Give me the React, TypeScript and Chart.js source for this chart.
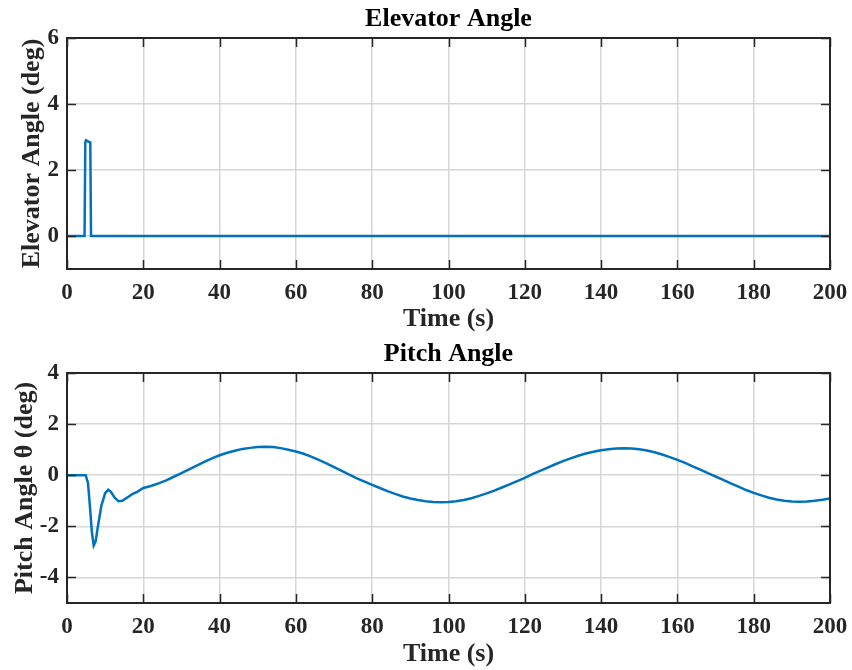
import React, { useEffect, useRef } from "react";
import { Chart, registerables } from "chart.js";

Chart.register(...registerables);

// ---- data ----
const xTicks = [0, 20, 40, 60, 80, 100, 120, 140, 160, 180, 200];
const elevatorTicks = [0, 2, 4, 6];
const pitchTicks = [-4, -2, 0, 2, 4];

const elevatorTime = [0, 4.6, 4.8, 5.0, 5.6, 6.1, 6.3, 200];
const elevatorAngle = [0, 0, 2.85, 2.9, 2.86, 2.84, 0, 0];

const pitchTime = [
  0, 4.9, 5.5, 6.0, 6.5, 7.0, 7.5, 8.0, 9.0, 10.0, 10.8, 11.5, 12.5, 13.5, 14.5, 16, 17, 18.5,
  20, 22, 24, 26, 28, 30, 32, 34, 36, 38, 40, 42, 44, 46, 48, 50, 52, 54, 56, 58, 60,
  62, 64, 66, 68, 70, 72, 74, 76, 78, 80, 82, 84, 86, 88, 90, 92, 94, 96, 98, 100,
  102, 104, 106, 108, 110, 112, 114, 116, 118, 120, 122, 124, 126, 128, 130, 132, 134, 136, 138, 140,
  142, 144, 146, 148, 150, 152, 154, 156, 158, 160, 162, 164, 166, 168, 170, 172, 174, 176, 178, 180,
  182, 184, 186, 188, 190, 192, 194, 196, 198, 200,
];
const pitchAngle = [
  0, 0, -0.3, -1.2, -2.2, -2.75, -2.6, -2.1, -1.2, -0.7, -0.57, -0.65, -0.88, -1.02, -1.0, -0.85, -0.75, -0.64,
  -0.5, -0.42, -0.32, -0.2, -0.06, 0.08, 0.23, 0.38, 0.52, 0.66, 0.78, 0.88, 0.96, 1.03, 1.07, 1.1, 1.11, 1.1, 1.06, 1.0, 0.93,
  0.84, 0.73, 0.6, 0.46, 0.32, 0.17, 0.02, -0.12, -0.25, -0.38, -0.5, -0.62, -0.73, -0.83, -0.91, -0.97, -1.02, -1.05, -1.06, -1.05,
  -1.02, -0.97, -0.9, -0.81, -0.71, -0.6, -0.48, -0.36, -0.23, -0.1, 0.04, 0.17, 0.3, 0.43, 0.55, 0.66, 0.76, 0.85, 0.92, 0.98,
  1.02, 1.05, 1.06, 1.05, 1.02, 0.97, 0.9, 0.81, 0.71, 0.6, 0.48, 0.35, 0.22, 0.08, -0.05, -0.18, -0.32, -0.45, -0.58, -0.69,
  -0.79, -0.88, -0.95, -1.0, -1.03, -1.04, -1.03, -1.0, -0.96, -0.91,
];

const FONT = "'Liberation Serif', 'Times New Roman', serif";
const LINE_COLOR = "#0072BD";
const AXIS_COLOR = "#262626";
const GRID_COLOR = "#d6d6d6";

const boxPlugin = {
  id: "matlabBox",
  afterDatasetsDraw(chart: any) {
    const { ctx, chartArea, scales } = chart;
    const { left, right, top, bottom } = chartArea;
    const xs = scales.x;
    const ys = scales.y;
    ctx.save();
    ctx.strokeStyle = AXIS_COLOR;
    ctx.lineWidth = 1.5;
    ctx.beginPath();
    xs.ticks.forEach((t: any) => {
      const px = Math.round(xs.getPixelForValue(t.value)) + 0.5;
      ctx.moveTo(px, bottom);
      ctx.lineTo(px, bottom - 9);
      ctx.moveTo(px, top);
      ctx.lineTo(px, top + 9);
    });
    ys.ticks.forEach((t: any) => {
      const py = Math.round(ys.getPixelForValue(t.value)) + 0.5;
      ctx.moveTo(left, py);
      ctx.lineTo(left + 9, py);
      ctx.moveTo(right, py);
      ctx.lineTo(right - 9, py);
    });
    ctx.stroke();
    ctx.lineWidth = 2;
    ctx.strokeRect(left, top, right - left, bottom - top);
    ctx.restore();
  },
};

type PanelProps = {
  title: string;
  yLabel: string;
  time: number[];
  values: number[];
  yMin: number;
  yMax: number;
  yTicks: number[];
  xHeight: number;
  yTitlePad: number;
  titlePadTop: number;
};

function Panel(p: PanelProps) {
  const ref = useRef<HTMLCanvasElement | null>(null);
  useEffect(() => {
    if (!ref.current) return;
    const points = p.time.map((t, i) => ({ x: t, y: p.values[i] }));
    const chart = new Chart(ref.current, {
      type: "line",
      data: {
        datasets: [
          {
            data: points,
            borderColor: LINE_COLOR,
            borderWidth: 2.5,
            pointRadius: 0,
            tension: 0,
            fill: false,
          },
        ],
      },
      plugins: [boxPlugin],
      options: {
        animation: false,
        responsive: false,
        maintainAspectRatio: false,
        layout: { padding: { left: 0, right: 22, top: 0, bottom: 0 } },
        plugins: {
          legend: { display: false },
          tooltip: { enabled: false },
          title: {
            display: true,
            text: p.title,
            fullSize: false,
            color: "#000",
            font: { family: FONT, size: 26, weight: "bold", lineHeight: 1.2 },
            padding: { top: p.titlePadTop, bottom: 38 - p.titlePadTop - 31.2 },
          },
        },
        scales: {
          x: {
            type: "linear",
            min: 0,
            max: 200,
            afterBuildTicks: (s: any) => {
              s.ticks = xTicks.map((v) => ({ value: v }));
            },
            afterFit: (s: any) => {
              s.height = p.xHeight;
              s.paddingLeft = 0;
              s.paddingRight = 0;
            },
            grid: { color: GRID_COLOR, lineWidth: 1.5, drawTicks: false },
            border: { display: false },
            ticks: {
              color: "#262626",
              padding: 10,
              maxRotation: 0,
              autoSkip: false,
              font: { family: FONT, size: 23, weight: "bold" },
            },
            title: {
              display: true,
              text: "Time (s)",
              color: "#262626",
              padding: { top: 0, bottom: 0 },
              font: { family: FONT, size: 26, weight: "bold", lineHeight: 1.2 },
            },
          },
          y: {
            type: "linear",
            min: p.yMin,
            max: p.yMax,
            afterBuildTicks: (s: any) => {
              s.ticks = p.yTicks.map((v) => ({ value: v }));
            },
            afterFit: (s: any) => {
              s.width = 67;
              s.paddingTop = 0;
              s.paddingBottom = 0;
            },
            grid: { color: GRID_COLOR, lineWidth: 1.5, drawTicks: false },
            border: { display: false },
            ticks: {
              color: "#262626",
              padding: 8,
              autoSkip: false,
              font: { family: FONT, size: 23, weight: "bold" },
            },
            title: {
              display: true,
              text: p.yLabel,
              color: "#262626",
              padding: { top: p.yTitlePad, bottom: 0 },
              font: { family: FONT, size: 26, weight: "bold", lineHeight: 1.2 },
            },
          },
        },
      },
    } as any);
    return () => chart.destroy();
  }, []);
  return (
    <canvas
      ref={ref}
      width={852}
      height={335}
      style={{ display: "block", width: 852, height: 335 }}
    />
  );
}

export default function App() {
  return (
    <div
      style={{
        position: "absolute",
        left: 0,
        top: 0,
        width: 852,
        height: 670,
        background: "#fff",
      }}
    >
      <Panel
        title="Elevator Angle"
        yLabel="Elevator Angle (deg)"
        time={elevatorTime}
        values={elevatorAngle}
        yMin={-1}
        yMax={6}
        yTicks={elevatorTicks}
        xHeight={66}
        yTitlePad={17}
        titlePadTop={4}
      />
      <Panel
        title="Pitch Angle"
        yLabel="Pitch Angle θ (deg)"
        time={pitchTime}
        values={pitchAngle}
        yMin={-5}
        yMax={4}
        yTicks={pitchTicks}
        xHeight={67}
        yTitlePad={10}
        titlePadTop={3.5}
      />
    </div>
  );
}
